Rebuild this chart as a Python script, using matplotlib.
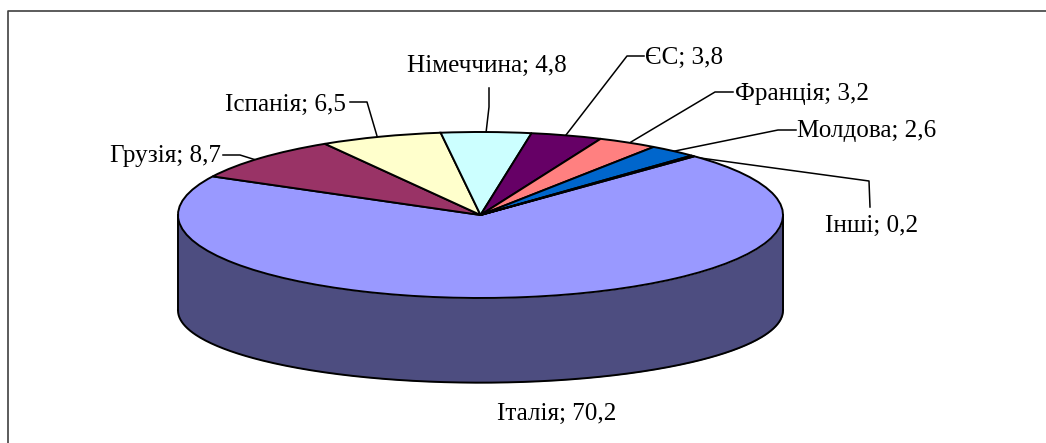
import numpy as np
import matplotlib
matplotlib.use('Agg')
import matplotlib.pyplot as plt

names = ['Італія', 'Грузія', 'Іспанія', 'Німеччина', 'ЄС', 'Франція', 'Молдова', 'Інші']
values = [70.2, 8.7, 6.5, 4.8, 3.8, 3.2, 2.6, 0.2]
colors = ['#9999FF', '#993366', '#FFFFCC', '#CCFFFF', '#660066', '#FF8080', '#0066CC', '#CCCCFF']
side_color = '#4D4D80'

W, H = 1046, 443
plt.rcParams['font.family'] = ['Liberation Serif', 'DejaVu Serif']

fig = plt.figure(figsize=(W / 100, H / 100), dpi=100, facecolor='white')

# overlay in pixel coords, for frame, labels and leader lines
bg = fig.add_axes([0, 0, 1, 1])
bg.set_xlim(0, W)
bg.set_ylim(H, 0)
bg.axis('off')

# pie axes covers just the top ellipse, aspect auto squashes the circle
x0, x1, y0, y1 = 178, 783, 132, 298
ax = fig.add_axes([x0 / W, 1 - y1 / H, (x1 - x0) / W, (y1 - y0) / H])
ax.pie(values, colors=colors, startangle=45, counterclock=False, radius=1,
       wedgeprops={'edgecolor': 'black', 'linewidth': 1.4, 'clip_on': False, 'zorder': 3})
ax.set_aspect('auto')
ax.set_xlim(-1, 1)
ax.set_ylim(-1, 1)
ax.axis('off')

# side wall, lower ellipse is a bit flatter
depth = 1.15
low_r = 0.87
t = np.linspace(0, np.pi, 300)
xs = np.cos(t)
top = -np.sin(t)
low = -depth - low_r * np.sin(t)
ax.fill_between(xs, low, top, color=side_color, lw=0, zorder=1, clip_on=False)
ax.plot(xs, low, color='black', lw=1.4, zorder=2, clip_on=False)
ax.plot([-1, -1], [0, -depth], color='black', lw=1.4, zorder=2, clip_on=False)
ax.plot([1, 1], [0, -depth], color='black', lw=1.4, zorder=2, clip_on=False)

# chart frame: only left and top show
bg.plot([7.5, 7.5, W], [H, 10.5, 10.5], color='#404040', lw=1.2)

label_pos = {
    'Італія': (557, 414, 'center'),
    'Грузія': (221, 156, 'right'),
    'Іспанія': (346, 105, 'right'),
    'Німеччина': (487, 66, 'center'),
    'ЄС': (645, 58, 'left'),
    'Франція': (735, 94, 'left'),
    'Молдова': (797, 131, 'left'),
    'Інші': (825, 226, 'left'),
}
for name, val in zip(names, values):
    px, py, ha = label_pos[name]
    txt = f'{name}; {val:.1f}'.replace('.', ',')
    bg.text(px, py, txt, ha=ha, va='center', fontsize=18.1, color='black')

leaders = [
    ([223, 240, 256], [155, 155, 160]),
    ([350, 367, 377], [102, 102, 136]),
    ([489, 489, 486], [88, 107, 133]),
    ([644, 627, 566], [56, 56, 135]),
    ([733, 715, 631], [92, 92, 142]),
    ([796, 778, 670], [130, 130, 152]),
    ([693, 869, 870], [157, 181, 207]),
]
for lx, ly in leaders:
    bg.plot(lx, ly, color='black', lw=1.1, zorder=5)

fig.savefig('out.png', dpi=100)
